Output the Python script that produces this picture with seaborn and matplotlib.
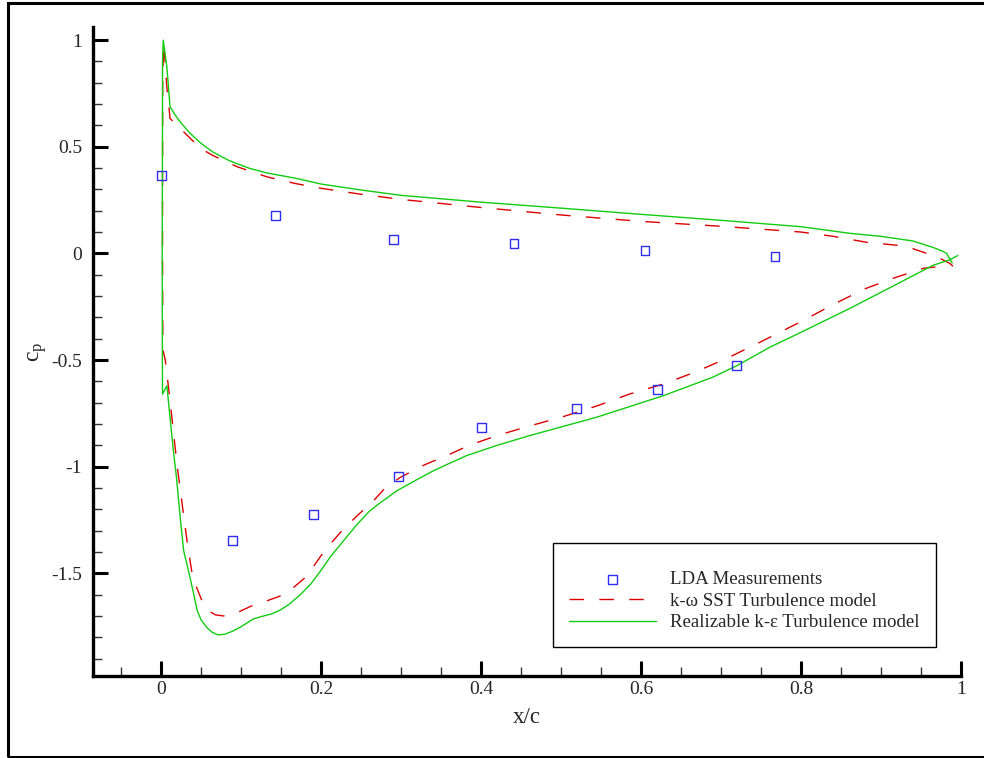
import matplotlib
matplotlib.use("Agg")
import matplotlib.pyplot as plt
import matplotlib.patches as mpatches
from matplotlib.ticker import MultipleLocator, FuncFormatter
import seaborn as sns

# ── Style ───────────────────────────────────────────────────
sns.set_style("white")
plt.rcParams["font.family"] = ["Liberation Serif", "DejaVu Serif"]
plt.rcParams["mathtext.fontset"] = "custom"
plt.rcParams["mathtext.rm"] = "Liberation Serif"
plt.rcParams["mathtext.it"] = "Liberation Serif:italic"
plt.rcParams["axes.unicode_minus"] = False

BLUE = "#2f2ff0"
RED = "#dd0000"
GREEN = "#11cc11"

# ── Data ────────────────────────────────────────────────────
lda_x = [0.0, 0.1425, 0.29, 0.441, 0.605, 0.7675,
         0.089, 0.19, 0.2967, 0.40, 0.5196, 0.6204, 0.7196]
lda_cp = [0.366, 0.178, 0.066, 0.047, 0.014, -0.014,
          -1.347, -1.225, -1.047, -0.815, -0.729, -0.637, -0.527]

# k-omega SST: trailing edge -> pressure side -> leading edge -> suction side
sst_x = [0.99, 0.986, 0.972, 0.957, 0.94, 0.92, 0.882, 0.84, 0.8, 0.7, 0.6,
         0.5, 0.4, 0.3, 0.25, 0.2, 0.167, 0.132, 0.095, 0.065, 0.05, 0.036,
         0.026, 0.018, 0.011, 0.007, 0.003, 0.0018, 0.0016, 0.0016, 0.002,
         0.005, 0.011, 0.015, 0.02, 0.027, 0.033, 0.038, 0.0425, 0.051,
         0.059, 0.068, 0.078, 0.095, 0.113, 0.13, 0.149, 0.163, 0.18, 0.19,
         0.205, 0.226, 0.245, 0.2654, 0.28, 0.299, 0.33, 0.357, 0.385, 0.42,
         0.46, 0.503, 0.545, 0.586, 0.63, 0.67, 0.71, 0.749, 0.8, 0.84, 0.88,
         0.915, 0.953, 0.986]
sst_cp = [-0.06, -0.047, -0.02, 0.0, 0.022, 0.038, 0.052, 0.08, 0.10, 0.127,
          0.15, 0.18, 0.215, 0.253, 0.277, 0.305, 0.328, 0.359, 0.406, 0.458,
          0.49, 0.54, 0.577, 0.605, 0.633, 0.78, 0.99, 0.8, 0.3, 0.0, -0.45,
          -0.5, -0.69, -0.83, -1.0, -1.2, -1.37, -1.488, -1.55, -1.63,
          -1.676, -1.695, -1.70, -1.684, -1.653, -1.632, -1.606, -1.574,
          -1.52, -1.47, -1.39, -1.30, -1.23, -1.16, -1.10, -1.05, -0.99,
          -0.948, -0.90, -0.854, -0.81, -0.765, -0.715, -0.659, -0.61, -0.553,
          -0.487, -0.416, -0.32, -0.24, -0.166, -0.117, -0.07, -0.056]

# realizable k-epsilon, same path
rke_x = [0.989, 0.982, 0.977, 0.965, 0.94, 0.9, 0.861, 0.8, 0.7, 0.6, 0.5,
         0.4, 0.3, 0.25, 0.2, 0.167, 0.132, 0.111, 0.095, 0.085, 0.065, 0.05,
         0.036, 0.025, 0.0175, 0.011, 0.007, 0.0025, 0.0016, 0.0015, 0.0012,
         0.0014, 0.0016, 0.007, 0.015, 0.019, 0.024, 0.028, 0.034, 0.0396,
         0.045, 0.05, 0.057, 0.063, 0.071, 0.08, 0.09, 0.1, 0.115, 0.128,
         0.138, 0.149, 0.16, 0.174, 0.187, 0.199, 0.212, 0.228, 0.245, 0.26,
         0.27, 0.2946, 0.32, 0.34, 0.36, 0.382, 0.42, 0.461, 0.5446, 0.628,
         0.69, 0.72, 0.761, 0.8, 0.861, 0.924, 0.965, 0.986, 0.996]
rke_cp = [-0.045, 0.0, 0.01, 0.028, 0.058, 0.08, 0.094, 0.125, 0.155, 0.183,
          0.212, 0.24, 0.272, 0.297, 0.325, 0.353, 0.377, 0.398, 0.42, 0.435,
          0.474, 0.515, 0.563, 0.61, 0.648, 0.687, 0.875, 1.0, 0.9, 0.5, 0.0,
          -0.5, -0.66, -0.62, -0.92, -1.05, -1.25, -1.394, -1.488, -1.58,
          -1.676, -1.72, -1.754, -1.775, -1.789, -1.785, -1.77, -1.75, -1.714,
          -1.70, -1.69, -1.672, -1.645, -1.6, -1.55, -1.49, -1.42, -1.347,
          -1.27, -1.21, -1.18, -1.113, -1.06, -1.02, -0.985, -0.948, -0.9,
          -0.854, -0.768, -0.667, -0.58, -0.526, -0.44, -0.37, -0.258, -0.136,
          -0.056, -0.03, -0.01]

# ── Figure ──────────────────────────────────────────────────
fig = plt.figure(figsize=(9.84, 7.58), dpi=100)
ax = fig.add_axes([0.0948, 0.1086, 0.8818, 0.8554])

sns.scatterplot(x=lda_x, y=lda_cp, marker="s", s=40, facecolor="none",
                edgecolor=BLUE, linewidth=1.0, label="LDA Measurements",
                ax=ax, zorder=3)
sns.lineplot(x=sst_x, y=sst_cp, sort=False, estimator=None, color=RED,
             linewidth=1.0, linestyle=(0, (10.5, 11)),
             label="k-ω SST Turbulence model", ax=ax)
sns.lineplot(x=rke_x, y=rke_cp, sort=False, estimator=None, color=GREEN,
             linewidth=1.0, label="Realizable k-ε Turbulence model", ax=ax)

ax.set_xlim(-0.085, 1.0)
ax.set_ylim(-1.98, 1.06)

ax.xaxis.set_major_locator(MultipleLocator(0.2))
ax.xaxis.set_minor_locator(MultipleLocator(0.05))
ax.yaxis.set_major_locator(MultipleLocator(0.5))
ax.yaxis.set_minor_locator(MultipleLocator(0.1))
fmt = FuncFormatter(lambda v, p: f"{v:g}")
ax.xaxis.set_major_formatter(fmt)
ax.yaxis.set_major_formatter(fmt)

for side in ["top", "right"]:
    ax.spines[side].set_visible(False)
for side in ["left", "bottom"]:
    ax.spines[side].set_linewidth(2.4)
    ax.spines[side].set_color("black")

ax.tick_params(which="both", bottom=True, left=True, top=False, right=False)
ax.tick_params(which="major", direction="in", length=10.8, width=2.2,
               color="black", labelsize=14)
ax.tick_params(which="minor", direction="in", length=6.5, width=1.0,
               color="#333333")
ax.tick_params(axis="y", which="major", pad=8)
ax.tick_params(axis="x", which="major", pad=4)

ax.set_xlabel("x/c", fontsize=16.5, labelpad=6)
ax.set_ylabel(r"c$_{\mathregular{p}}$", fontsize=17, labelpad=2)

leg = ax.legend(loc="upper left", bbox_to_anchor=(0.5298, 0.2047),
                borderaxespad=0, fontsize=13.6, frameon=True, fancybox=False,
                framealpha=1, edgecolor="black", handlelength=4.6,
                handletextpad=0.75, labelspacing=0.22, borderpad=0.85,
                scatterpoints=1, title=" ", title_fontsize=6)
leg.get_frame().set_linewidth(1.0)

# outer frame around the whole picture
fig.add_artist(mpatches.Rectangle((0.0081, 0.0013), 1.2, 0.9947,
                                  transform=fig.transFigure, fill=False,
                                  edgecolor="black", linewidth=2.2))

fig.savefig("out.png", dpi=100)
plt.close(fig)
